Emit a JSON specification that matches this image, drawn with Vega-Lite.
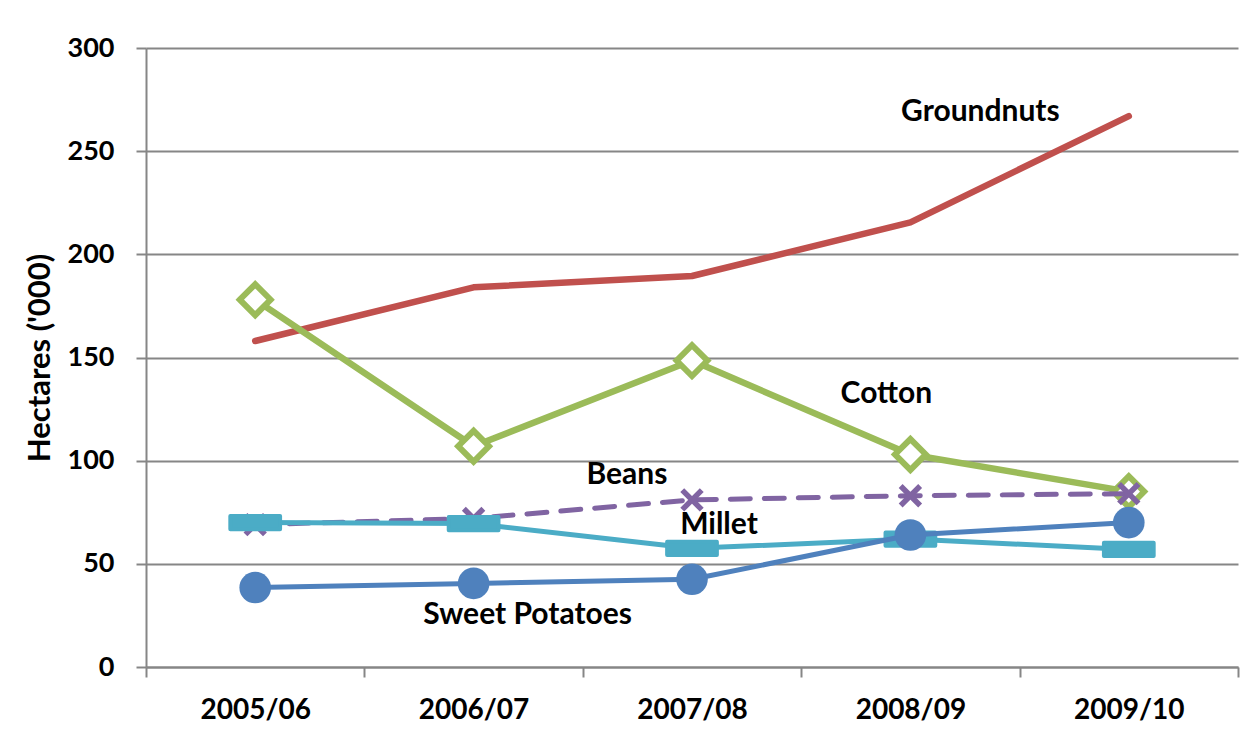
{
  "$schema": "https://vega.github.io/schema/vega-lite/v6.json",
  "width": 1092,
  "height": 619,
  "autosize": "none",
  "padding": {"left": 146, "top": 48, "right": 20, "bottom": 78},
  "background": "white",
  "config": {
    "view": {"stroke": null},
    "font": "Lato",
    "axis": {
      "labelFont": "Lato", "labelFontWeight": "bold", "labelFontSize": 27, "labelColor": "black",
      "titleFont": "Lato", "titleFontWeight": "bold", "titleFontSize": 31, "titleColor": "black",
      "domainColor": "#868686", "domainWidth": 2, "tickColor": "#868686", "tickWidth": 2, "tickSize": 10,
      "gridColor": "#868686", "gridWidth": 2
    },
    "text": {"font": "Lato", "fontWeight": "bold", "fontSize": 30, "color": "black"}
  },
  "datasets": {
    "area": [
      {"crop": "Groundnuts", "period": "2005/06", "hectares": 158},
      {"crop": "Groundnuts", "period": "2006/07", "hectares": 184},
      {"crop": "Groundnuts", "period": "2007/08", "hectares": 189.5},
      {"crop": "Groundnuts", "period": "2008/09", "hectares": 215.5},
      {"crop": "Groundnuts", "period": "2009/10", "hectares": 267},
      {"crop": "Cotton", "period": "2005/06", "hectares": 178},
      {"crop": "Cotton", "period": "2006/07", "hectares": 107},
      {"crop": "Cotton", "period": "2007/08", "hectares": 148.5},
      {"crop": "Cotton", "period": "2008/09", "hectares": 103},
      {"crop": "Cotton", "period": "2009/10", "hectares": 85},
      {"crop": "Beans", "period": "2005/06", "hectares": 69},
      {"crop": "Beans", "period": "2006/07", "hectares": 72},
      {"crop": "Beans", "period": "2007/08", "hectares": 81},
      {"crop": "Beans", "period": "2008/09", "hectares": 83},
      {"crop": "Beans", "period": "2009/10", "hectares": 84},
      {"crop": "Millet", "period": "2005/06", "hectares": 70},
      {"crop": "Millet", "period": "2006/07", "hectares": 69.5},
      {"crop": "Millet", "period": "2007/08", "hectares": 57.5},
      {"crop": "Millet", "period": "2008/09", "hectares": 62},
      {"crop": "Millet", "period": "2009/10", "hectares": 57},
      {"crop": "Sweet Potatoes", "period": "2005/06", "hectares": 38.5},
      {"crop": "Sweet Potatoes", "period": "2006/07", "hectares": 40.5},
      {"crop": "Sweet Potatoes", "period": "2007/08", "hectares": 42.5},
      {"crop": "Sweet Potatoes", "period": "2008/09", "hectares": 64},
      {"crop": "Sweet Potatoes", "period": "2009/10", "hectares": 70}
    ],
    "names": [
      {"crop": "Groundnuts", "period": "2008/09", "hectares": 269},
      {"crop": "Cotton", "period": "2008/09", "hectares": 132.5},
      {"crop": "Beans", "period": "2007/08", "hectares": 93},
      {"crop": "Millet", "period": "2007/08", "hectares": 69},
      {"crop": "Sweet Potatoes", "period": "2006/07", "hectares": 25}
    ]
  },
  "data": {"name": "area"},
  "encoding": {
    "x": {
      "field": "period", "type": "nominal",
      "scale": {"domain": ["2005/06", "2006/07", "2007/08", "2008/09", "2009/10"], "paddingInner": 0, "paddingOuter": 0},
      "axis": {"title": null, "labelAngle": 0, "labelFontSize": 28, "tickBand": "extent", "labelPadding": 19, "grid": false}
    },
    "y": {
      "field": "hectares", "type": "quantitative",
      "scale": {"domain": [0, 300], "nice": false, "zero": true},
      "axis": {"title": "Hectares ('000)", "values": [0, 50, 100, 150, 200, 250, 300], "labelPadding": 22, "titlePadding": 11, "grid": true}
    }
  },
  "layer": [
    {
      "transform": [{"filter": "datum.crop === 'Groundnuts'"}],
      "mark": {"type": "line", "color": "#C0504D", "strokeWidth": 6.5, "strokeCap": "round", "strokeJoin": "round"}
    },
    {
      "transform": [{"filter": "datum.crop === 'Cotton'"}],
      "mark": {"type": "line", "color": "#9BBB59", "strokeWidth": 6.5, "strokeCap": "round", "strokeJoin": "round"}
    },
    {
      "transform": [{"filter": "datum.crop === 'Cotton'"}],
      "mark": {"type": "point", "shape": "diamond", "size": 950, "filled": true, "fill": "white", "stroke": "#9BBB59", "strokeWidth": 6, "opacity": 1}
    },
    {
      "transform": [{"filter": "datum.crop === 'Beans'"}],
      "mark": {"type": "line", "color": "#8064A2", "strokeWidth": 5, "strokeDash": [20, 14], "strokeCap": "round"}
    },
    {
      "transform": [{"filter": "datum.crop === 'Beans'"}],
      "mark": {"type": "point", "shape": "M -1 -1 L 1 1 M -1 1 L 1 -1", "size": 380, "filled": false, "stroke": "#8064A2", "strokeWidth": 5.5, "opacity": 1}
    },
    {
      "transform": [{"filter": "datum.crop === 'Millet'"}],
      "mark": {"type": "line", "color": "#4BACC6", "strokeWidth": 5, "strokeCap": "round", "strokeJoin": "round"}
    },
    {
      "transform": [{"filter": "datum.crop === 'Millet'"}],
      "mark": {"type": "point", "shape": "M -1.5 -0.4 L 1.5 -0.4 L 1.5 0.4 L -1.5 0.4 Z", "size": 1100, "filled": true, "color": "#4BACC6", "stroke": "#4BACC6", "strokeWidth": 4, "strokeJoin": "round", "opacity": 1}
    },
    {
      "transform": [{"filter": "datum.crop === 'Sweet Potatoes'"}],
      "mark": {"type": "line", "color": "#4F81BD", "strokeWidth": 5, "strokeCap": "round", "strokeJoin": "round"}
    },
    {
      "transform": [{"filter": "datum.crop === 'Sweet Potatoes'"}],
      "mark": {"type": "point", "shape": "circle", "size": 1000, "filled": true, "color": "#4F81BD", "opacity": 1}
    },
    {
      "data": {"name": "names"},
      "transform": [{"filter": "datum.crop === 'Groundnuts'"}],
      "mark": {"type": "text", "dx": 70},
      "encoding": {"text": {"field": "crop"}}
    },
    {
      "data": {"name": "names"},
      "transform": [{"filter": "datum.crop === 'Cotton'"}],
      "mark": {"type": "text", "dx": -24},
      "encoding": {"text": {"field": "crop"}}
    },
    {
      "data": {"name": "names"},
      "transform": [{"filter": "datum.crop === 'Beans'"}],
      "mark": {"type": "text", "dx": -65},
      "encoding": {"text": {"field": "crop"}}
    },
    {
      "data": {"name": "names"},
      "transform": [{"filter": "datum.crop === 'Millet'"}],
      "mark": {"type": "text", "dx": 27},
      "encoding": {"text": {"field": "crop"}}
    },
    {
      "data": {"name": "names"},
      "transform": [{"filter": "datum.crop === 'Sweet Potatoes'"}],
      "mark": {"type": "text", "dx": 54},
      "encoding": {"text": {"field": "crop"}}
    }
  ]
}
